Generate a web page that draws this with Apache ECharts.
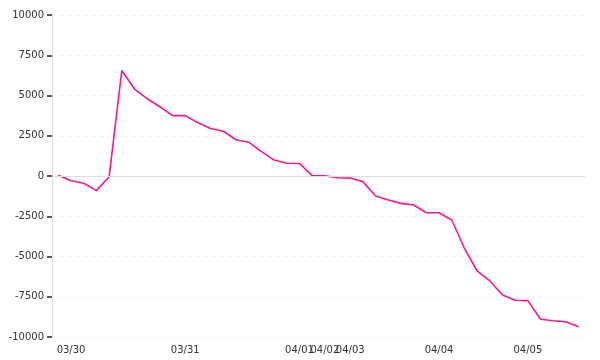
<!DOCTYPE html>
<html>
<head>
<meta charset="utf-8">
<script src="https://cdn.jsdelivr.net/npm/echarts@6/dist/echarts.min.js"></script>
<style>html,body{margin:0;padding:0;background:#fff;}#c{width:600px;height:360px;}</style>
</head>
<body>
<div id="c"></div>
<script>
// Date of each point (category axis)
var categories = [
  '03/30','03/30','03/30','03/30','03/30','03/30','03/30','03/30','03/30','03/30',
  '03/31','03/31','03/31','03/31','03/31','03/31','03/31','03/31','03/31',
  '04/01','04/01',
  '04/02','04/02',
  '04/03','04/03','04/03','04/03','04/03','04/03','04/03',
  '04/04','04/04','04/04','04/04','04/04','04/04','04/04',
  '04/05','04/05','04/05','04/05','04/05'
];
// Series values
var values = [
  50, -300, -450, -910, -50, 6550, 5400, 4800, 4300, 3750,
  3750, 3310, 2950, 2780, 2250, 2100, 1510, 990, 790,
  780, 20,
  10, -105,
  -130, -350, -1240, -1490, -1700, -1800, -2280,
  -2280, -2730, -4490, -5900, -6520, -7390, -7720,
  -7740, -8900, -8990, -9050, -9360
];
// Indices where an x tick label is shown
var labelIndices = [1, 10, 19, 21, 23, 30, 37];
// Y axis range
var yMin = -10000, yMax = 10000, yStep = 2500;

var chart = echarts.init(document.getElementById('c'), null, {renderer: 'canvas'});
chart.setOption({
  animation: false,
  grid: {left: 52, right: 15, top: 15, bottom: 23, containLabel: false, outerBoundsMode: 'none'},
  xAxis: {
    type: 'category',
    data: categories,
    boundaryGap: true,
    axisLine: {show: false, onZero: false},
    axisTick: {show: false},
    axisLabel: {
      interval: function (i) { return labelIndices.indexOf(i) >= 0; },
      color: '#333', fontFamily: 'DejaVu Sans', fontSize: 10, margin: 8
    },
    splitLine: {show: false}
  },
  yAxis: {
    type: 'value',
    min: yMin, max: yMax, interval: yStep,
    axisLine: {show: true, onZero: false, lineStyle: {color: '#ddd', width: 1}},
    axisTick: {show: true, inside: false, length: 5, lineStyle: {color: '#222', width: 1.5}},
    axisLabel: {
      color: '#333', fontFamily: 'DejaVu Sans', fontSize: 10, margin: 8,
      formatter: function (v) { return String(v); }
    },
    splitLine: {show: true, lineStyle: {color: '#eee', type: [3, 5]}}
  },
  series: [{
    type: 'line',
    data: values,
    showSymbol: false,
    symbol: 'none',
    lineStyle: {color: '#ff1493', width: 1.6},
    itemStyle: {color: '#ff1493'},
    markLine: {
      silent: true,
      symbol: 'none',
      label: {show: false},
      lineStyle: {color: '#ddd', type: 'solid', width: 1},
      data: [{yAxis: 0}]
    }
  }]
});
</script>
</body>
</html>
